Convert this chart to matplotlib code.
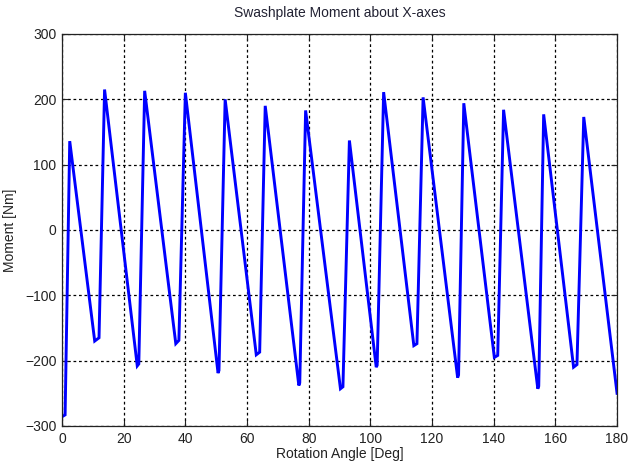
"""Swashplate moment about the X axis over half a rotor revolution."""
import matplotlib.pyplot as plt
import numpy as np

plt.rcParams["font.family"] = ["Liberation Sans", "DejaVu Sans"]

# falling edge bottoms out at trough_start, the rise begins at trough_end
trough_start_deg = [0.3, 10.6, 24.4, 36.9, 50.6, 63.0, 76.8, 90.3, 101.9, 114.1, 128.3, 140.2, 154.3, 165.9]
trough_start_nm = [-285, -170, -208, -174, -219, -191, -238, -243, -210, -177, -226, -195, -243, -210]
trough_end_deg = [1.0, 12.0, 24.9, 37.9, 50.9, 64.1, 77.1, 91.1, 102.2, 115.1, 128.6, 141.3, 154.6, 167.0]
trough_end_nm = [-283, -165, -205, -169, -215, -187, -234, -240, -207, -174, -222, -192, -239, -206]
peak_deg = [2.5, 13.8, 26.8, 40.0, 52.9, 65.9, 79.0, 93.2, 104.3, 117.1, 130.3, 143.2, 156.2, 169.2]
peak_nm = [136, 215, 213, 210, 200, 190, 183, 137, 211, 203, 194, 184, 177, 173]
end_deg = 180.0
end_nm = -250

X_TICKS = [0, 20, 40, 60, 80, 100, 120, 140, 160, 180]
Y_TICKS = [-300, -200, -100, 0, 100, 200, 300]


def build_curve():
    angle = np.column_stack([trough_start_deg, trough_end_deg, peak_deg]).ravel()
    moment = np.column_stack([trough_start_nm, trough_end_nm, peak_nm]).ravel()
    return np.append(angle, end_deg), np.append(moment, end_nm)


def main():
    angle, moment = build_curve()

    fig = plt.figure(figsize=(6.29, 4.72), dpi=100)
    ax = fig.add_axes([0.0986, 0.0975, 0.8824, 0.8305])

    ax.plot(angle, moment, color="#0000ff", lw=2.1, solid_joinstyle="miter")

    ax.set_xlim(0, 180)
    ax.set_ylim(-300, 300)
    ax.set_xticks(X_TICKS)
    ax.set_yticks(Y_TICKS)
    ax.grid(True, color="black", linestyle=(0, (2.2, 2.2)), linewidth=0.9)
    ax.tick_params(direction="in", length=4, width=0.8, top=True, right=True,
                   labelsize=10, colors="#222222", pad=4)
    for sp in ax.spines.values():
        sp.set_linewidth(0.9)
        sp.set_color("#222222")

    ax.set_title("Swashplate Moment about X-axes", fontsize=10, color="#222233", pad=12)
    ax.set_xlabel("Rotation Angle [Deg]", fontsize=10, color="#222222", labelpad=1)
    ax.set_ylabel("Moment [Nm]", fontsize=10, color="#222222", labelpad=6)

    fig.savefig("out.png", dpi=100)
    plt.close(fig)


if __name__ == "__main__":
    main()
